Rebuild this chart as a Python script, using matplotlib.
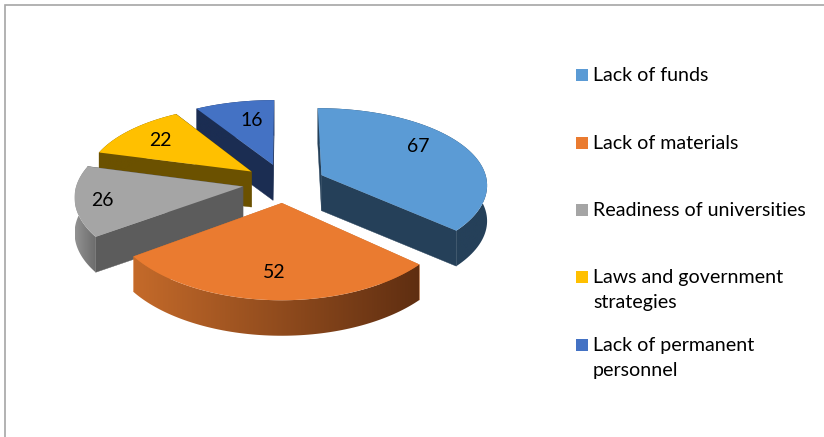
import numpy as np
import matplotlib
matplotlib.use('Agg')
import matplotlib.pyplot as plt
from matplotlib.colors import to_rgb, LinearSegmentedColormap
from matplotlib.patches import Polygon

categories = ['Lack of funds', 'Lack of materials', 'Readiness of universities',
              'Laws and government\nstrategies', 'Lack of permanent\npersonnel']
values = [67, 52, 26, 22, 16]
top_colors = ['#5b9bd5', '#ea7b30', '#a5a5a5', '#ffc000', '#4472c4']
cut_colors = ['#254059', '#d0702c', '#5c5c5c', '#6b5100', '#1b2d52']
rim_left = ['#254059', '#c46a2a', '#929292', '#6b5100', '#1b2d52']
rim_right = ['#254059', '#5f2e11', '#6a6a6a', '#6b5100', '#1b2d52']

cx, cy = 284, 183
ax_x, ax_y = 166, 78
persp_x, persp_y = 0.11, 0.135
explode = 0.25
depth = 35.5


def project(x, y):
    s = 1 / (1 + persp_y * y)
    return cx + ax_x * x / (1 + persp_x * y), cy - ax_y * y * s


fig = plt.figure(figsize=(8.24, 4.37), dpi=100)
ax = fig.add_axes([0, 0, 1, 1])
ax.axis('off')

# chart frame, only top and left are visible
ax.plot([5, 5, 824], [437, 5, 5], color='#a6a6a6', lw=1.2, solid_joinstyle='miter')

total = sum(values)
edges = np.cumsum([0] + values) / total * 2 * np.pi
draw_order = [4, 3, 2, 1, 0]
z = 2

for i in draw_order:
    a0, a1 = edges[i], edges[i + 1]
    mid = (a0 + a1) / 2
    ox, oy = explode * np.sin(mid), explode * np.cos(mid)
    th = np.linspace(a0, a1, 80)
    rx, ry = project(ox + np.sin(th), oy + np.cos(th))
    px, py = project(ox, oy)

    # cut faces
    ax.fill([px, rx[0], rx[0], px], [py, ry[0], ry[0] + depth, py + depth],
            color=cut_colors[i], lw=0.3, zorder=z)
    ax.fill([px, rx[-1], rx[-1], px], [py, ry[-1], ry[-1] + depth, py + depth],
            color=cut_colors[i], lw=0.3, zorder=z)

    # outer rim, shaded left to right
    rim_xy = np.c_[np.r_[rx, rx[::-1]], np.r_[ry, (ry + depth)[::-1]]]
    cmap = LinearSegmentedColormap.from_list('rim', [to_rgb(rim_left[i]), to_rgb(rim_right[i])])
    im = ax.imshow(np.linspace(0, 1, 256)[None, :], cmap=cmap, aspect='auto', zorder=z + 1,
                   extent=[rx.min(), rx.max(), rim_xy[:, 1].max(), rim_xy[:, 1].min()])
    im.set_clip_path(Polygon(rim_xy, transform=ax.transData))

    # top face
    ax.fill(np.r_[px, rx], np.r_[py, ry], color=top_colors[i], lw=0, zorder=z + 2)
    z += 3

ax.set_xlim(0, 824)
ax.set_ylim(437, 0)

font = 'Lato'
label_pos = [(418, 146), (274, 272), (102, 200), (160, 140), (252, 120)]
for v, (x, y) in zip(values, label_pos):
    ax.text(x, y, str(v), ha='center', va='center', fontsize=14, family=font,
            color='black', zorder=50)

legend_y = [75, 143, 210, 277, 345]
for name, col, y in zip(categories, top_colors, legend_y):
    ax.fill([576, 588, 588, 576], [y - 6, y - 6, y + 6, y + 6], color=col, lw=0)
    ax.text(593, y - 8, name, ha='left', va='top', fontsize=14.1, family=font,
            color='black', linespacing=1.58)

fig.savefig('out.png', dpi=100)
